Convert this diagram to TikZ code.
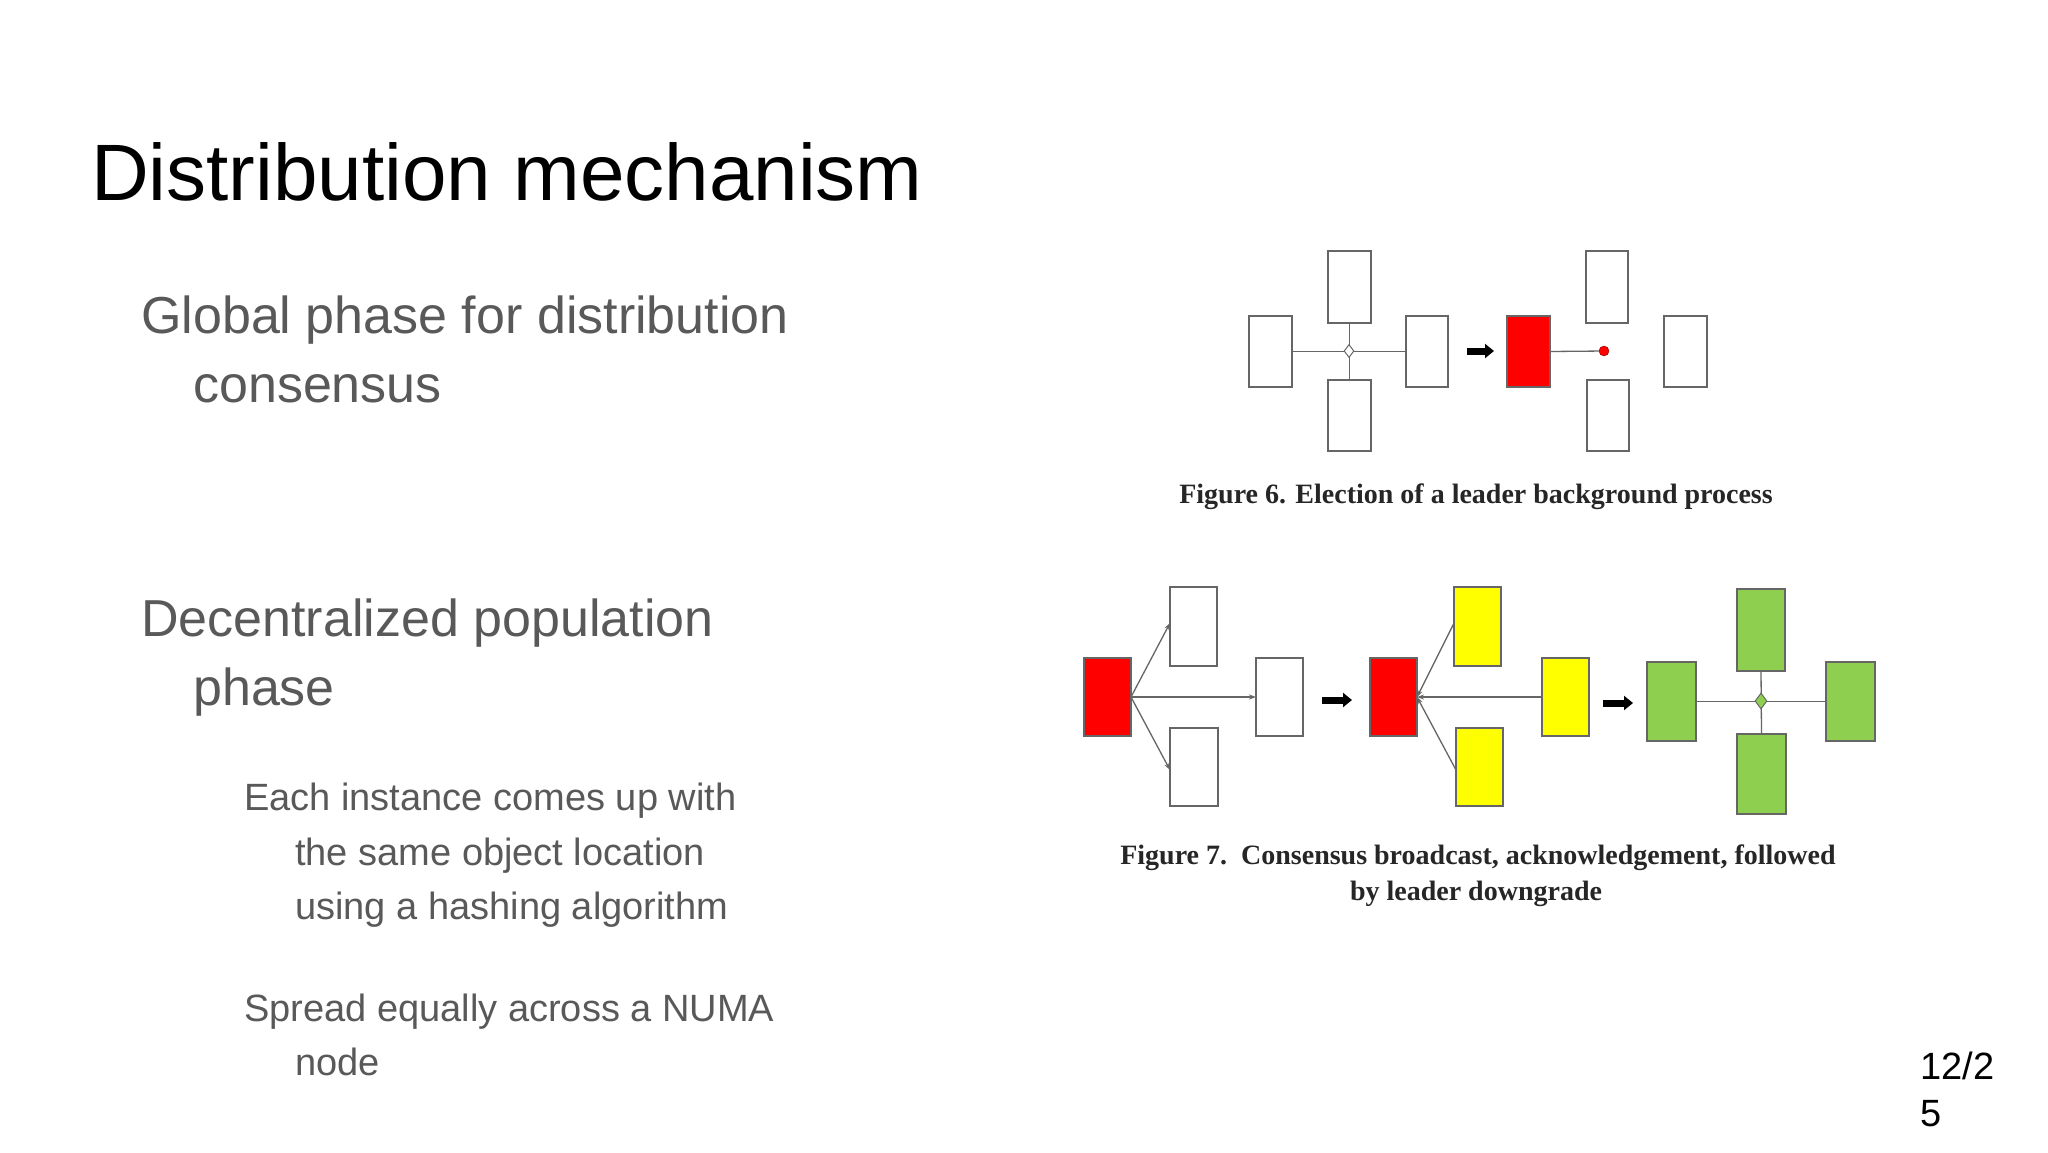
\documentclass[tikz,border=0pt]{standalone}
\usepackage{fontspec}
\setmainfont{Liberation Sans}
\newfontfamily\capfont{Liberation Serif}
\usetikzlibrary{shapes.geometric,arrows.meta}
\definecolor{bodygray}{HTML}{595959}
\definecolor{ered}{HTML}{FF0000}
\definecolor{eyel}{HTML}{FFFF00}
\definecolor{egrn}{HTML}{8FCF4F}
\tikzset{
 box/.style={draw=black!60,line width=1.6pt,fill=white},
 lnk/.style={draw=black!60,line width=1.3pt},
 tip/.style={lnk,-{Stealth[length=7pt,width=5pt]}},
 fat/.style={line width=7pt,-{Triangle[length=9pt,width=14pt]}},
 body/.style={anchor=base west,inner sep=0,text=bodygray},
 figcap/.style={anchor=base,inner sep=0,font=\capfont\bfseries\fontsize{28}{30}\selectfont,text=black!85},
}
\newcommand{\bx}[6]{\path[box,fill=#6] (#2,#3) rectangle (#4,#5); \coordinate (#1-nw) at (#2,#3); \coordinate (#1-se) at (#4,#5);
 \coordinate (#1-w) at (#2,{(#3+#5)/2}); \coordinate (#1-e) at (#4,{(#3+#5)/2}); \coordinate (#1-n) at ({(#2+#4)/2},#3); \coordinate (#1-s) at ({(#2+#4)/2},#5);}
\begin{document}
\begin{tikzpicture}[x=1pt,y=-1pt]
\useasboundingbox (0,0) rectangle (2048,1152);
\fill[white] (0,0) rectangle (2048,1152);
\node[anchor=base west,inner sep=0,font=\fontsize{80}{90}\selectfont] (title) at (91,200) {Distribution mechanism};
\begin{scope}[font=\fontsize{52}{60}\selectfont]
\node[body] (g1) at (141,333) {Global phase for distribution};
\node[body] (g2) at (193,402) {consensus};
\node[body] (d1) at (141,636) {Decentralized population};
\node[body] (d2) at (193,705) {phase};
\end{scope}
\begin{scope}[font=\fontsize{38}{44}\selectfont]
\node[body] (e1) at (244,810) {Each instance comes up with};
\node[body] (e2) at (295,865) {the same object location};
\node[body] (e3) at (295,919) {using a hashing algorithm};
\node[body] (s1) at (244,1021) {Spread equally across a NUMA};
\node[body] (s2) at (295,1075) {node};
\node[anchor=base west,inner sep=0] (p1) at (1920,1079) {12/2};
\node[anchor=base west,inner sep=0] (p2) at (1920,1126) {5};
\end{scope}
% Figure 6
\bx{a}{1249}{316}{1292}{387}{white}
\bx{b}{1328}{251}{1371}{323}{white}
\bx{c}{1328}{380}{1371}{451}{white}
\bx{d}{1406}{316}{1448}{387}{white}
\draw[lnk] (a-e) -- (d-w);
\draw[lnk] (b-s) -- (c-n);
\node[diamond,draw=black!60,fill=white,line width=1pt,minimum width=10pt,minimum height=13pt,inner sep=0] (dia) at (1349,351) {};
\draw[fat] (1467,351) -- (1494,351);
\bx{r}{1507}{316}{1550}{387}{ered}
\bx{f}{1586}{251}{1628}{323}{white}
\bx{g}{1587}{380}{1629}{451}{white}
\bx{h}{1664}{316}{1707}{387}{white}
\node[circle,fill=ered,draw=red!60!black,minimum size=10pt,inner sep=0] (dot) at (1604,351) {};
\draw[lnk] (r-e) -- (dot);
\node[figcap] (c6) at (1476,503) {Figure 6. Election of a leader background process};
% Figure 7
\bx{k}{1084}{658}{1131}{736}{ered}
\bx{m}{1170}{587}{1217}{666}{white}
\bx{n}{1170}{728}{1218}{806}{white}
\bx{o}{1256}{658}{1303}{736}{white}
\draw[tip] (k-e) -- (o-w);
\draw[tip] (k-e) -- (1170,623);
\draw[tip] (k-e) -- (1170,770);
\draw[fat] (1322,700) -- (1352,700);
\bx{q}{1370}{658}{1417}{736}{ered}
\bx{y1}{1454}{587}{1501}{666}{eyel}
\bx{y2}{1542}{658}{1589}{736}{eyel}
\bx{y3}{1456}{728}{1503}{806}{eyel}
\draw[tip] (y2-w) -- (q-e);
\draw[tip] (1454,623) -- (q-e);
\draw[tip] (1456,770) -- (q-e);
\draw[fat] (1603,703) -- (1633,703);
\bx{u1}{1647}{662}{1696}{741}{egrn}
\bx{u2}{1737}{589}{1785}{671}{egrn}
\bx{u3}{1826}{662}{1875}{741}{egrn}
\bx{u4}{1737}{734}{1786}{814}{egrn}
\draw[lnk] (u1-e) -- (u3-w);
\draw[lnk] (u2-s) -- (u4-n);
\node[diamond,draw=black!60,fill=egrn,line width=1pt,minimum width=12pt,minimum height=16pt,inner sep=0] (gd) at (1761,701) {};
\node[figcap] (c7a) at (1478,864) {Figure 7.\ \ Consensus broadcast, acknowledgement, followed};
\node[figcap] (c7b) at (1476,900) {by leader downgrade};
\end{tikzpicture}
\end{document}
